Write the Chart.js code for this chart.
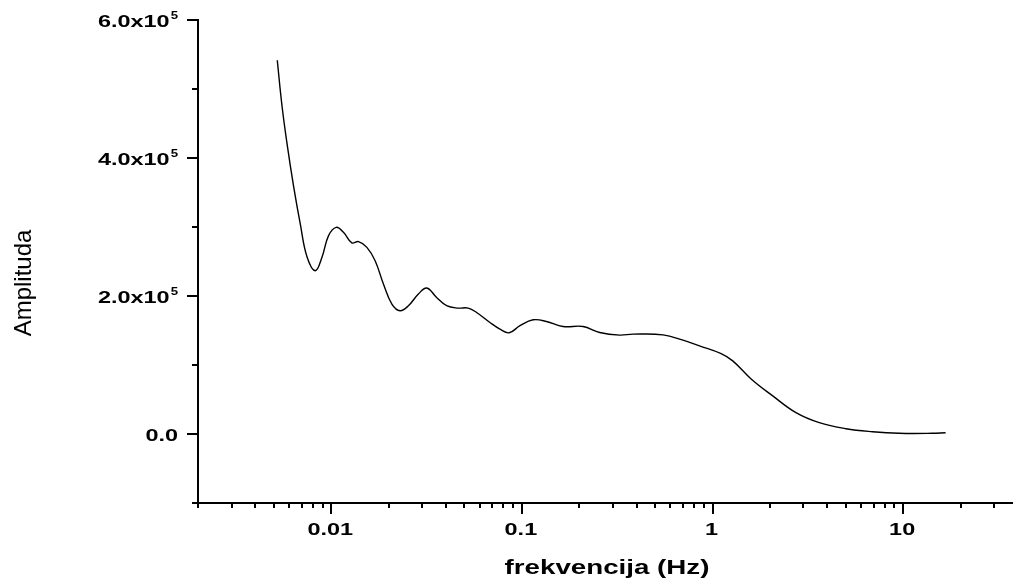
<!DOCTYPE html>
<html>
<head>
<meta charset="utf-8">
<script src="https://cdn.jsdelivr.net/npm/chart.js@4/dist/chart.umd.min.js"></script>
<style>
html,body{margin:0;padding:0;background:#fff;}
#wrap{width:1013px;height:581px;position:relative;}
</style>
</head>
<body>
<div id="wrap"><canvas id="c" width="1013" height="581"></canvas></div>
<script>
// ---- data ----
const freq = [0.00521,0.00552,0.00588,0.00635,0.00689,0.00746,0.00825,0.00894,0.00968,0.01062,
  0.01159,0.01282,0.0139,0.01538,0.01699,0.01878,0.0208,0.02297,0.0254,0.02866,
  0.0317,0.0357,0.0403,0.0464,0.0523,0.0579,0.068,0.0767,0.0858,0.0977,
  0.1146,0.1346,0.1644,0.2094,0.256,0.326,0.383,0.55,0.70,0.855,
  1.11,1.277,1.6,2.07,2.74,3.63,5.01,6.91,9.53,14.2,16.7];
const amplitude = [541600,475000,418200,358600,303500,257000,236700,256000,287500,299500,
  292300,276900,278800,270500,251200,217400,188300,178600,185900,202800,
  211600,197900,185900,182500,182500,176100,161600,152000,146700,157000,
  165500,163100,155800,155800,147100,143300,144700,143700,136000,127800,
  116600,106000,79400,55200,30900,16400,7700,3300,1000,1000,1900];

const xMajorTicks = [0.01, 0.1, 1, 10];
const xMajorLabels = ['0.01', '0.1', '1', '10'];
const xMinorTicks = [0.002,0.003,0.004,0.005,0.006,0.007,0.008,0.009,
  0.02,0.03,0.04,0.05,0.06,0.07,0.08,0.09,
  0.2,0.3,0.4,0.5,0.6,0.7,0.8,0.9,
  2,3,4,5,6,7,8,9,20,30];
const yMajorTicks = [0, 200000, 400000, 600000];
const yLabelMantissa = ['0.0', '2.0x10', '4.0x10', '6.0x10'];
const yLabelExponent = ['', '5', '5', '5'];
const yMinorTicks = [-100000, 100000, 300000, 500000];
const xTitle = 'frekvencija (Hz)';
const yTitle = 'Amplituda';

const points = freq.map((f, i) => ({x: f, y: amplitude[i]}));

function stretchedText(ctx, text, x, y, font, sx, align, baseline) {
  ctx.save();
  ctx.translate(x, y);
  ctx.scale(sx, 1);
  ctx.font = font;
  ctx.textAlign = align;
  ctx.textBaseline = baseline;
  ctx.fillStyle = '#000';
  ctx.fillText(text, 0, 0);
  ctx.restore();
}

const axesPlugin = {
  id: 'originAxes',
  afterDraw(chart) {
    const ctx = chart.ctx;
    const xs = chart.scales.x, ys = chart.scales.y;
    const area = chart.chartArea;
    const left = area.left, bottom = area.bottom;
    ctx.save();
    ctx.strokeStyle = '#000';
    ctx.lineWidth = 2;
    ctx.lineCap = 'butt';
    ctx.beginPath();
    ctx.moveTo(left, area.top - 1);
    ctx.lineTo(left, bottom + 1);
    ctx.moveTo(left - 1, bottom);
    ctx.lineTo(area.right, bottom);
    ctx.stroke();
    ctx.beginPath();
    xMinorTicks.forEach(v => {
      const px = Math.round(xs.getPixelForValue(v));
      ctx.moveTo(px, bottom); ctx.lineTo(px, bottom + 5);
    });
    xMajorTicks.forEach(v => {
      const px = Math.round(xs.getPixelForValue(v));
      ctx.moveTo(px, bottom); ctx.lineTo(px, bottom + 11);
    });
    yMinorTicks.forEach(v => {
      const py = Math.round(ys.getPixelForValue(v));
      ctx.moveTo(left, py); ctx.lineTo(left - 6, py);
    });
    yMajorTicks.forEach(v => {
      const py = Math.round(ys.getPixelForValue(v));
      ctx.moveTo(left, py); ctx.lineTo(left - 11, py);
    });
    ctx.stroke();
    ctx.restore();

    const fam = '"Liberation Sans", Arial, sans-serif';
    xMajorTicks.forEach((v, i) => {
      const px = xs.getPixelForValue(v);
      stretchedText(ctx, xMajorLabels[i], px - 1, bottom + 32, 'bold 17px ' + fam, 1.38, 'center', 'alphabetic');
    });
    const rightEdge = left - 20;
    yMajorTicks.forEach((v, i) => {
      const py = ys.getPixelForValue(v);
      let xr = rightEdge;
      if (yLabelExponent[i]) {
        ctx.save();
        ctx.font = 'bold 11px ' + fam;
        const ew = ctx.measureText(yLabelExponent[i]).width * 1.2;
        ctx.restore();
        stretchedText(ctx, yLabelExponent[i], xr, py - 1, 'bold 11px ' + fam, 1.2, 'right', 'alphabetic');
        xr -= ew + 1;
      }
      stretchedText(ctx, yLabelMantissa[i], xr, py + 7, 'bold 17px ' + fam, 1.38, 'right', 'alphabetic');
    });
    stretchedText(ctx, xTitle, 607, 574, 'bold 21px ' + fam, 1.32, 'center', 'alphabetic');
    ctx.save();
    ctx.translate(24, 283);
    ctx.rotate(-Math.PI / 2);
    ctx.font = '24px ' + fam;
    ctx.textAlign = 'center';
    ctx.textBaseline = 'middle';
    ctx.fillStyle = '#000';
    ctx.fillText(yTitle, 0, 0);
    ctx.restore();
  }
};

new Chart(document.getElementById('c'), {
  type: 'line',
  data: {
    datasets: [{
      data: points,
      borderColor: '#000',
      borderWidth: 1.4,
      pointRadius: 0,
      fill: false,
      tension: 0.4
    }]
  },
  options: {
    responsive: false,
    animation: false,
    events: [],
    layout: {padding: {left: 198, top: 20, right: 0, bottom: 78}},
    plugins: {legend: {display: false}, tooltip: {enabled: false}},
    scales: {
      x: {type: 'logarithmic', min: 0.002, max: 37.7, display: false},
      y: {type: 'linear', min: -100000, max: 600000, display: false}
    }
  },
  plugins: [axesPlugin]
});
</script>
</body>
</html>
